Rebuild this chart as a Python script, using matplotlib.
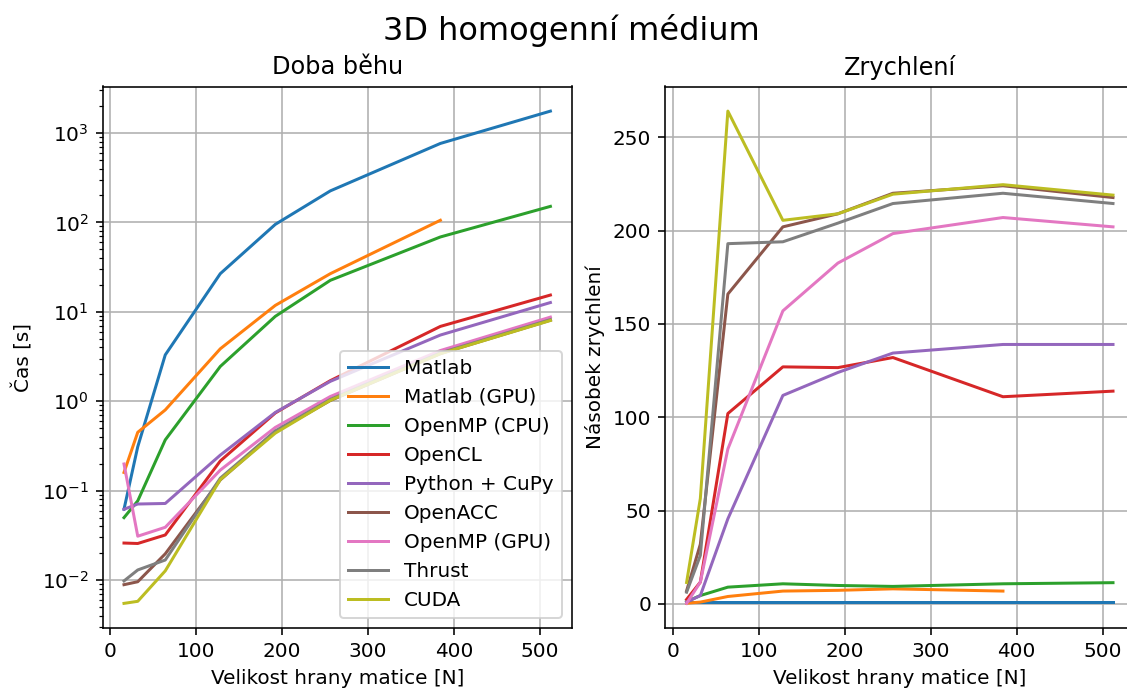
import numpy as np
import matplotlib
matplotlib.use("Agg")
import matplotlib.pyplot as plt

# velikost hrany matice
sizes = [16, 32, 64, 128, 192, 256, 384, 512]

labels = ["Matlab", "Matlab (GPU)", "OpenMP (CPU)", "OpenCL", "Python + CuPy",
          "OpenACC", "OpenMP (GPU)", "Thrust", "CUDA"]

# doba behu [s]
t_matlab = [0.062, 0.31, 3.3, 26.7, 95, 225, 763, 1754]
t_matlab_gpu = [0.16, 0.45, 0.8, 3.86, 11.8, 26.7, 105.6]
t_omp_cpu = [0.050, 0.077, 0.37, 2.45, 8.9, 22.5, 68.7, 151]
t_opencl = [0.026, 0.0257, 0.032, 0.215, 0.74, 1.70, 6.87, 15.4]
t_cupy = [0.062, 0.071, 0.072, 0.25, 0.75, 1.67, 5.5, 12.7]
t_openacc = [0.0089, 0.0096, 0.0197, 0.132, 0.455, 1.02, 3.41, 8.06]
t_omp_gpu = [0.199, 0.031, 0.039, 0.17, 0.51, 1.13, 3.69, 8.73]
t_thrust = [0.0098, 0.013, 0.0168, 0.138, 0.466, 1.05, 3.47, 8.18]
t_cuda = [0.0055, 0.0058, 0.0127, 0.133, 0.44, 1.025, 3.40, 8.0]

# zrychleni vuci Matlabu
s_matlab = [1, 1, 1, 1, 1, 1, 1, 1]
s_matlab_gpu = [0.39, 1.0, 4.0, 6.9, 7.3, 8.1, 6.9]
s_omp_cpu = [1.24, 4.5, 9.0, 10.8, 9.9, 9.4, 10.8, 11.4]
s_opencl = [2.4, 11.7, 102, 127, 126.6, 132, 111, 114]
s_cupy = [1.0, 4.5, 45.6, 111.7, 124, 134.4, 139, 139]
s_openacc = [7.0, 32, 166, 202, 209, 220, 224, 217.7]
s_omp_gpu = [0.31, 11.7, 83, 157, 182.6, 198.4, 207, 202]
s_thrust = [6.3, 26, 193, 194, 204, 214.5, 220, 214.5]
s_cuda = [11.5, 56.5, 264, 205.5, 209, 219.5, 224.6, 219]

times = [t_matlab, t_matlab_gpu, t_omp_cpu, t_opencl, t_cupy,
         t_openacc, t_omp_gpu, t_thrust, t_cuda]
speedups = [s_matlab, s_matlab_gpu, s_omp_cpu, s_opencl, s_cupy,
            s_openacc, s_omp_gpu, s_thrust, s_cuda]

DPI = 144
fig = plt.figure(figsize=(1127 / DPI, 692 / DPI), dpi=DPI)
ax1 = fig.add_axes([0.0911, 0.0925, 0.4162, 0.7825])
ax2 = fig.add_axes([0.5903, 0.0925, 0.4162, 0.7825])

for label, t in zip(labels, times):
    ax1.plot(sizes[:len(t)], t, label=label)
ax1.set_yscale("log")
ax1.set_title("Doba běhu")
ax1.set_xlabel("Velikost hrany matice [N]")
ax1.set_ylabel("Čas [s]")
ax1.grid(True)
ax1.legend(loc="lower right")

for label, s in zip(labels, speedups):
    ax2.plot(sizes[:len(s)], s, label=label)
ax2.set_title("Zrychlení")
ax2.set_xlabel("Velikost hrany matice [N]")
ax2.set_ylabel("Násobek zrychlení")
ax2.grid(True)

fig.suptitle("3D homogenní médium", fontsize=16, x=0.507)

plt.savefig("out.png", dpi=DPI)
plt.close()
